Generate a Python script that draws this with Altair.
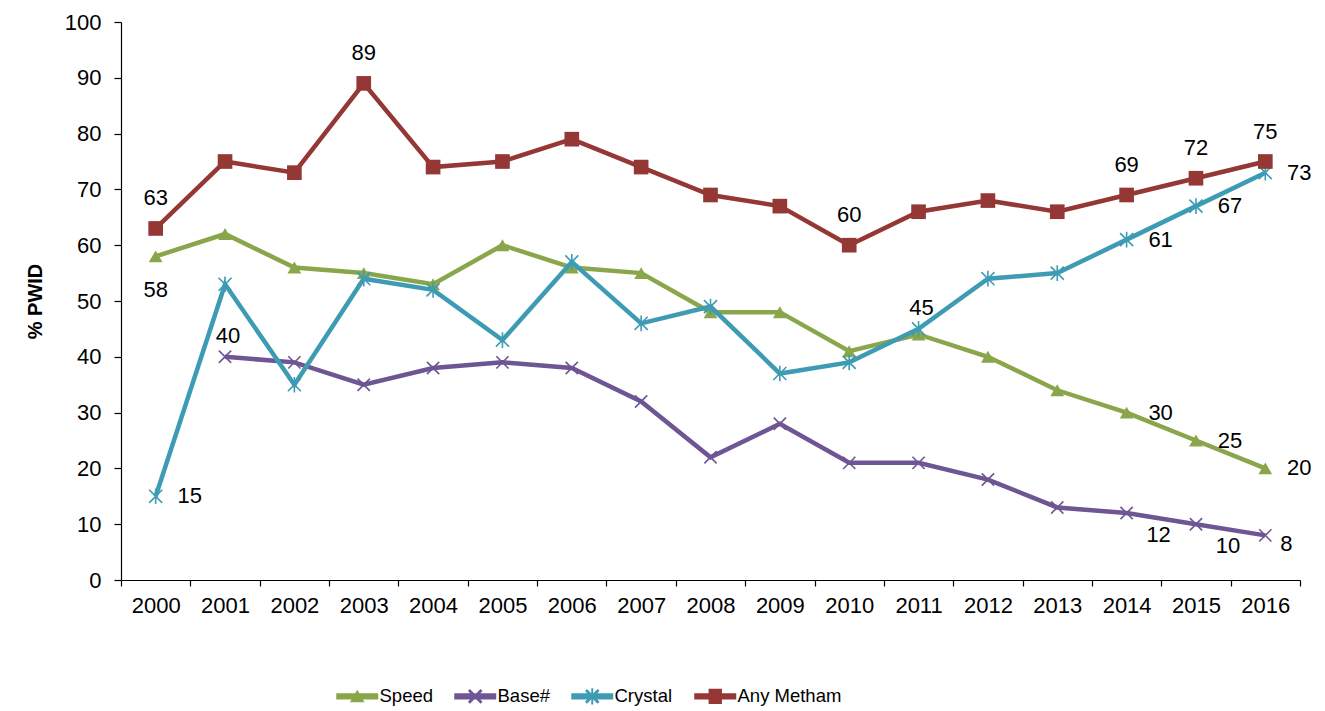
import altair as alt
import pandas as pd

# ---------------- data ----------------
years = [str(y) for y in range(2000, 2017)]
speed = [58, 62, 56, 55, 53, 60, 56, 55, 48, 48, 41, 44, 40, 34, 30, 25, 20]
base = [None, 40, 39, 35, 38, 39, 38, 32, 22, 28, 21, 21, 18, 13, 12, 10, 8]
crystal = [15, 53, 35, 54, 52, 43, 57, 46, 49, 37, 39, 45, 54, 55, 61, 67, 73]
metham = [63, 75, 73, 89, 74, 75, 79, 74, 69, 67, 60, 66, 68, 66, 69, 72, 75]

series_names = ["Speed", "Base#", "Crystal", "Any Metham"]
series_values = [speed, base, crystal, metham]

# which points carry a value label, grouped by label placement style
label_points = {
    "above": [("Any Metham", y) for y in ["2000", "2003", "2010", "2014", "2015", "2016"]],
    "below": [("Speed", "2000")],
    "right": [("Crystal", y) for y in ["2000", "2014", "2015", "2016"]]
    + [("Speed", y) for y in ["2014", "2015", "2016"]],
    "above_near": [("Base#", "2001"), ("Crystal", "2011")],
    "below_right": [("Base#", "2014"), ("Base#", "2015")],
    "right_low": [("Base#", "2016")],
}

# ---------------- styles ----------------
colors = ["#8AA64A", "#6E5594", "#3E9BB4", "#953735"]
FONT = "Liberation Sans"
label_offsets = {
    "above": (0, -30),
    "below": (0, 34),
    "right": (34, 0),
    "above_near": (3, -21),
    "below_right": (32, 22),
    "right_low": (21, 9),
}
X_PATH = "M-1,-1L1,1M-1,1L1,-1"
AST_PATH = "M-1,-1L1,1M-1,1L1,-1M0,-1.2L0,1.2"
marker_styles = [
    dict(shape="triangle-up", filled=True, size=190, strokeWidth=0),
    dict(shape=X_PATH, filled=False, size=150, strokeWidth=1.6),
    dict(shape=AST_PATH, filled=False, size=170, strokeWidth=1.6),
    dict(shape="square", filled=True, size=215, strokeWidth=0),
]


# all legend sub-paths drawn with the same (clockwise) winding so overlaps stay filled
def bar(x0, x1, h):
    return f"M{x0},{-h}L{x1},{-h}L{x1},{h}L{x0},{h}Z"


def diag(d, s=1.0):
    a = f"M{-s-d},{-s+d}L{-s+d},{-s-d}L{s+d},{s-d}L{s-d},{s+d}Z"
    b = f"M{s-d},{-s-d}L{s+d},{-s+d}L{-s+d},{s+d}L{-s-d},{s-d}Z"
    return a + b


LINE = bar(-3, 3, 0.45)
legend_paths = [
    LINE + "M0,-0.95L1.05,0.85L-1.05,0.85Z",
    LINE + diag(0.14, 0.9),
    LINE + diag(0.14, 0.9) + "M-0.14,-1.15L0.14,-1.15L0.14,1.15L-0.14,1.15Z",
    LINE + "M-0.95,-1.1L0.95,-1.1L0.95,1.1L-0.95,1.1Z",
]

# ---------------- tables ----------------
rows = []
for name, vals in zip(series_names, series_values):
    for yr, v in zip(years, vals):
        if v is not None:
            rows.append({"year": yr, "series": name, "value": v})
df = pd.DataFrame(rows)

lab_rows = []
for style, pts in label_points.items():
    for name, yr in pts:
        v = series_values[series_names.index(name)][years.index(yr)]
        lab_rows.append({"year": yr, "series": name, "value": v, "style": style})
df_lab = pd.DataFrame(lab_rows)

# ---------------- encodings ----------------
x_axis = alt.Axis(
    title=None, labelAngle=0, tickBand="extent", tickSize=6, labelPadding=9,
    labelFont=FONT, labelFontSize=22, labelColor="black",
    domainColor="black", tickColor="black", domainWidth=1.2, tickWidth=1.2, grid=False,
)
y_axis = alt.Axis(
    title="% PWID", values=list(range(0, 101, 10)), tickSize=7, labelPadding=13,
    labelFont=FONT, labelFontSize=22, labelColor="black",
    titleFont=FONT, titleFontSize=20, titleFontWeight="bold", titleColor="black",
    titlePadding=19, domainColor="black", tickColor="black",
    domainWidth=1.2, tickWidth=1.2, grid=False,
)


def X():
    return alt.X(
        "year:O",
        scale=alt.Scale(type="band", domain=years, paddingInner=0, paddingOuter=0),
        bandPosition=0.5,
        axis=x_axis,
    )


def Y():
    return alt.Y("value:Q", scale=alt.Scale(domain=[0, 100], nice=False), axis=y_axis)


layers = []
for name, col, ms in zip(series_names, colors, marker_styles):
    sub = df[df["series"] == name]
    layers.append(
        alt.Chart(sub).mark_line(color=col, strokeWidth=4.5).encode(x=X(), y=Y())
    )
    layers.append(
        alt.Chart(sub)
        .mark_point(color=col, opacity=1, **ms)
        .encode(x=X(), y=Y())
    )

for style, (dx, dy) in label_offsets.items():
    sub = df_lab[df_lab["style"] == style]
    layers.append(
        alt.Chart(sub)
        .mark_text(font=FONT, fontSize=22, color="black", dx=dx, dy=dy,
                   align="center", baseline="middle")
        .encode(x=X(), y=Y(), text=alt.Text("value:Q"))
    )

leg = alt.Legend(
    title=None, orient="none", legendX=227, legendY=665, direction="horizontal",
    symbolSize=196, symbolStrokeWidth=0, symbolOpacity=1,
    labelFont=FONT, labelFontSize=18.5, labelColor="black", labelOffset=13,
    columnPadding=21, padding=0,
)
legend_layer = (
    alt.Chart(df)
    .mark_point(filled=True, opacity=1)
    .encode(
        x=X(), y=Y(),
        color=alt.Color("series:N", scale=alt.Scale(domain=series_names, range=colors), legend=leg),
        shape=alt.Shape("series:N", scale=alt.Scale(domain=series_names, range=legend_paths), legend=leg),
    )
    .transform_filter("false")
)
layers.append(legend_layer)

chart = (
    alt.layer(*layers)
    .properties(
        width=1179, height=558,
        autosize=alt.AutoSizeParams(type="none"),
        padding={"left": 113, "top": 14, "right": 17, "bottom": 127},
        background="white",
    )
    .configure_view(stroke=None)
)

chart.save("out.html", embed_options={"renderer": "svg", "actions": False})
